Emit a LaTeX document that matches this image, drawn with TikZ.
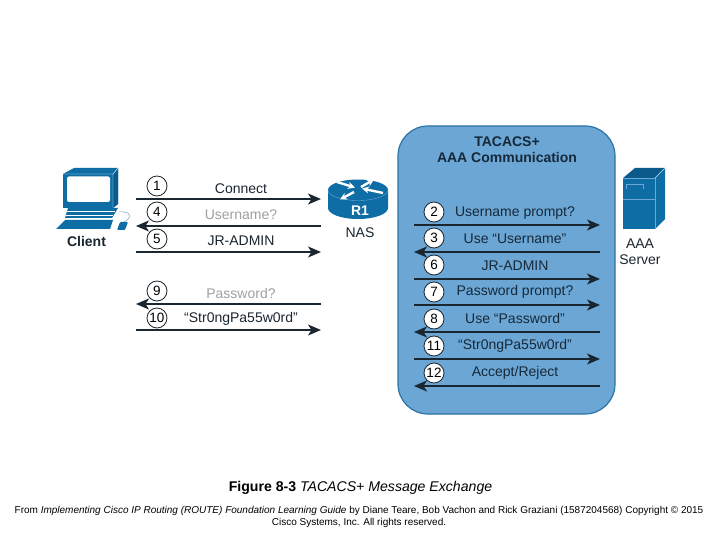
\documentclass[tikz,border=0pt]{standalone}
\usepackage{fontspec}
\setmainfont{Liberation Sans}
\usetikzlibrary{arrows.meta}
\definecolor{iconblue}{HTML}{0F6DA6}
\definecolor{icondark}{HTML}{0B5A8C}
\definecolor{panelfill}{HTML}{6BA6D4}
\definecolor{panelline}{HTML}{2A75A8}
\definecolor{inkdark}{HTML}{1A2630}
\definecolor{greytext}{HTML}{A0A0A0}
\definecolor{panelink}{HTML}{16293A}
\tikzset{
  x=1pt,y=-1pt,
  msg/.style={line width=1.4pt,draw=inkdark,-{Stealth[length=13pt,width=11pt,inset=3.5pt]}},
  num/.style={circle,draw=inkdark,fill=white,line width=0.8pt,minimum size=20pt,inner sep=0pt,font=\fontsize{13.5}{13.5}\selectfont,text=black},
  lab/.style={inner sep=0pt,font=\fontsize{14}{14}\selectfont,text=inkdark,anchor=center,yshift=-0.8pt},
  lablight/.style={lab,text=greytext},
  labpanel/.style={lab,text=panelink},
  icon/.style={fill=iconblue,draw=none},
  rarrow/.style={draw=white,line width=2.4pt,-{Stealth[length=7pt,width=7pt]}},
}
\begin{document}
\begin{tikzpicture}
\useasboundingbox[fill=white] (0,0) rectangle (720,540);
% panel
\node[draw=panelline,fill=panelfill,line width=1.2pt,rounded corners=30pt,minimum width=217pt,minimum height=288pt,inner sep=0pt] (panel) at (506.5,270) {};
\node[inner sep=0pt,align=center,font=\fontsize{14}{16}\selectfont\bfseries,text=panelink] (title) at (507,150) {TACACS+\\AAA Communication};
% client
\fill[icon] (63,174) -- (74,168) -- (118,168) -- (118,204) -- (113,208) -- (63,208) -- cycle;
\fill[icondark] (113,174) -- (118,168) -- (118,204) -- (113,208) -- cycle;
\draw[white,line width=0.4pt] (63,174) -- (113,174) -- (118,168) (113,174) -- (113,208);
\fill[white,rounded corners=2pt] (67,176.5) rectangle (110,202);
\fill[icon] (68,208) -- (118,208) -- (112,218) -- (65,218) -- cycle;
\draw[white,line width=0.6pt] (67,211.5) -- (115,211.5) (66,215) -- (113,215);
\fill[icon] (56,229) -- (65,220) -- (113,220) -- (110,229) -- cycle;
\fill[icon,rounded corners=1pt] (120,222) -- (128,222) -- (125,230) -- (117,230) -- cycle;
\draw[iconblue!60,line width=0.5pt] (124,222) .. controls (132,218) and (132,211) .. (119,212);
\node[inner sep=0pt,font=\fontsize{14}{14}\selectfont\bfseries,text=inkdark] (client) at (86.5,241) {Client};
% router
\fill[iconblue] (328,190) -- (328,208) arc[start angle=180,end angle=0,x radius=30,y radius=11] -- (388,190) -- cycle;
\fill[iconblue] (358,190) ellipse[x radius=30,y radius=10.5];
\draw[panelfill,line width=0.4pt] (328,190) arc[start angle=180,end angle=0,x radius=30,y radius=10.5];
\draw[rarrow] (337,182) -- (355,187.5);
\draw[rarrow] (361,187) -- (374,179.5);
\draw[rarrow] (383,193) -- (362,188.5);
\draw[rarrow] (354,192) -- (340,199.5);
\node[inner sep=0pt,font=\fontsize{14}{14}\selectfont\bfseries,text=white] (r1) at (360,211) {R1};
\node[lab] (nas) at (360,232) {NAS};
% server
\fill[icondark] (623,178) -- (635,168) -- (665,168) -- (655,178) -- cycle;
\fill[iconblue] (655,178) -- (665,168) -- (665,219) -- (655,229) -- cycle;
\fill[icon] (623,178) rectangle (655,229);
\draw[white,line width=0.4pt,opacity=.7] (655,178) -- (665,168);
\draw[panelfill,line width=0.7pt] (623,178) -- (655,178) -- (655,229) (623,199) -- (655,199);
\draw[panelfill,line width=0.7pt] (626,189) -- (626,184) -- (643,184) -- (643,189);
\node[lab,align=center,font=\fontsize{14}{16}\selectfont] (server) at (640,250.5) {AAA\\Server};
% coordinates of message ends
\foreach \n/\yy in {a/199,b/226,c/252,d/304,e/330}{
  \coordinate (cl\n) at (136,\yy);
  \coordinate (ns\n) at (321,\yy);
}
\foreach \n/\yy in {a/225,b/252,c/279,d/305,e/332,f/359,g/386}{
  \coordinate (pl\n) at (414,\yy);
  \coordinate (pr\n) at (600,\yy);
}
% messages
\draw[msg] (cla) -- (nsa);
\draw[msg] (nsb) -- (clb);
\draw[msg] (clc) -- (nsc);
\draw[msg] (nsd) -- (cld);
\draw[msg] (cle) -- (nse);
\draw[msg] (pla) -- (pra);
\draw[msg] (prb) -- (plb);
\draw[msg] (plc) -- (prc);
\draw[msg] (pld) -- (prd);
\draw[msg] (pre) -- (ple);
\draw[msg] (plf) -- (prf);
\draw[msg] (prg) -- (plg);
% numbers
\foreach \t/\yy in {1/186,4/212,5/239,9/291,10/318}{
  \node[num] (n\t) at (157,\yy) {\t};
}
\foreach \t/\yy in {2/212,3/238,6/265,7/292,8/319,11/346,12/373}{
  \node[num] (n\t) at (434,\yy) {\t};
}
% labels
\node[lab] (t1) at (241,188) {Connect};
\node[lablight] (t4) at (241,214) {Username?};
\node[lab] (t5) at (241,240) {JR-ADMIN};
\node[lablight] (t9) at (241,293) {Password?};
\node[lab] (t10) at (241,318) {“Str0ngPa55w0rd”};
\node[labpanel] (t2) at (515,212) {Username prompt?};
\node[labpanel] (t3) at (515,238) {Use “Username”};
\node[labpanel] (t6) at (515,265) {JR-ADMIN};
\node[labpanel] (t7) at (515,291) {Password prompt?};
\node[labpanel] (t8) at (515,318) {Use “Password”};
\node[labpanel] (t11) at (515,345.5) {“Str0ngPa55w0rd”};
\node[labpanel] (t12) at (515,372) {Accept/Reject};
% caption
\node[inner sep=0pt,font=\fontsize{14.1}{14.1}\selectfont,text=black] (cap) at (360.5,487.5) {\textbf{Figure 8-3} \textit{TACACS+ Message Exchange}};
\node[inner sep=0pt,align=center,font=\fontsize{10}{12}\selectfont,text=black] (foot) at (359,517) {From \textit{Implementing Cisco IP Routing (ROUTE) Foundation Learning Guide} by Diane Teare, Bob Vachon and Rick Graziani (1587204568) Copyright © 2015\\Cisco Systems, Inc. All rights reserved.};
\end{tikzpicture}
\end{document}
